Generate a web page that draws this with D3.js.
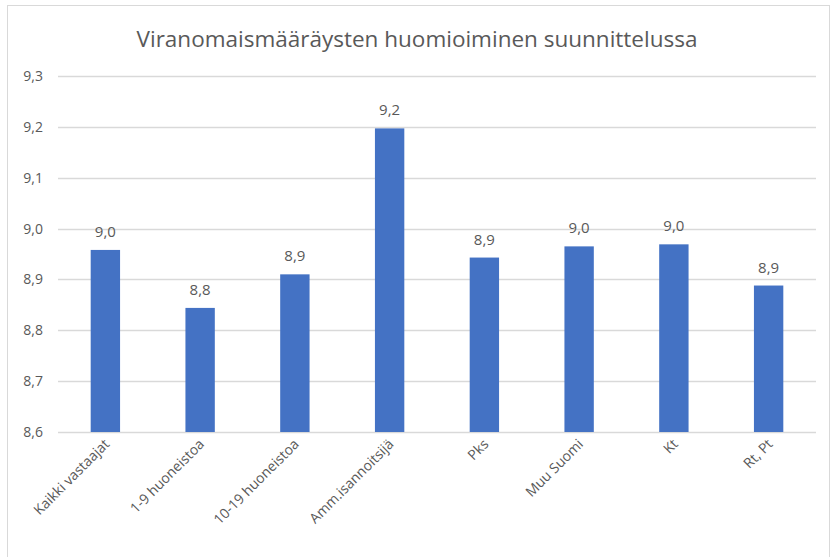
<!DOCTYPE html>
<html>
<head>
<meta charset="utf-8">
<script src="https://cdn.jsdelivr.net/npm/d3@7"></script>
<style>
  body { margin: 0; background: white; }
  svg { display: block; }
</style>
</head>
<body>
<script>
const categories = ["Kaikki vastaajat", "1-9 huoneistoa", "10-19 huoneistoa", "Amm.isannoitsijä", "Pks", "Muu Suomi", "Kt", "Rt, Pt"]
const values = [8.958, 8.844, 8.910, 9.197, 8.943, 8.965, 8.969, 8.888]
const yTicks = [8.6, 8.7, 8.8, 8.9, 9.0, 9.1, 9.2, 9.3]
const title = "Viranomaismääräysten huomioiminen suunnittelussa"

const [width, height] = [833, 557]
const margin = {top: 76, right: 15, bottom: 125, left: 58}
const colors = {
    bar: "#4472c4",
    grid: "#d9d9d9",
    text: "#595959",
    border: "#d9d9d9"
}
const font = "'Open Sans', 'Noto Sans', sans-serif"
const fmt = v => v.toFixed(1).replace(".", ",")

const svg = d3.select("body").append("svg")
    .attr("width", width)
    .attr("height", height)
    .style("font-family", font)

svg.append("rect")
    .attr("x", 7.5).attr("y", 5.5)
    .attr("width", 822).attr("height", 560)
    .attr("fill", "white")
    .attr("stroke", colors.border)

const x = d3.scaleBand()
    .domain(categories)
    .range([margin.left, width - margin.right - 2])
    .paddingInner(0.69)
    .paddingOuter(0.345)

const y = d3.scaleLinear()
    .domain([8.6, 9.3])
    .range([height - margin.bottom, margin.top])

// gridlines
svg.append("g")
    .selectAll("line")
    .data(yTicks)
    .enter()
    .append("line")
        .attr("x1", margin.left)
        .attr("x2", width - margin.right - 2)
        .attr("y1", d => Math.round(y(d)) + 0.5)
        .attr("y2", d => Math.round(y(d)) + 0.5)
        .attr("stroke", colors.grid)
        .attr("stroke-width", 1.3)

// y tick labels
svg.append("g")
    .selectAll("text")
    .data(yTicks)
    .enter()
    .append("text")
        .text(fmt)
        .attr("x", margin.left - 15)
        .attr("y", d => y(d) + 5)
        .attr("text-anchor", "end")
        .attr("font-size", 14)
        .attr("fill", colors.text)

// bars
svg.append("g")
    .selectAll("rect")
    .data(values)
    .enter()
    .append("rect")
        .attr("x", (d, i) => x(categories[i]))
        .attr("y", d => y(d))
        .attr("width", x.bandwidth())
        .attr("height", d => y(8.6) - y(d))
        .attr("fill", colors.bar)

// value labels
svg.append("g")
    .selectAll("text")
    .data(values)
    .enter()
    .append("text")
        .text(fmt)
        .attr("x", (d, i) => x(categories[i]) + x.bandwidth() / 2)
        .attr("y", d => y(d) - 13)
        .attr("text-anchor", "middle")
        .attr("font-size", 15)
        .attr("fill", colors.text)

// category labels, rotated
svg.append("g")
    .selectAll("text")
    .data(categories)
    .enter()
    .append("text")
        .text(d => d)
        .attr("text-anchor", "end")
        .attr("font-size", 14)
        .attr("fill", colors.text)
        .attr("transform", d => `translate(${x(d) + x.bandwidth() / 2 + 5},${height - margin.bottom + 13}) rotate(-45)`)

svg.append("text")
    .text(title)
    .attr("x", 417)
    .attr("y", 47)
    .attr("text-anchor", "middle")
    .attr("font-size", 22.5)
    .attr("fill", colors.text)
</script>
</body>
</html>
